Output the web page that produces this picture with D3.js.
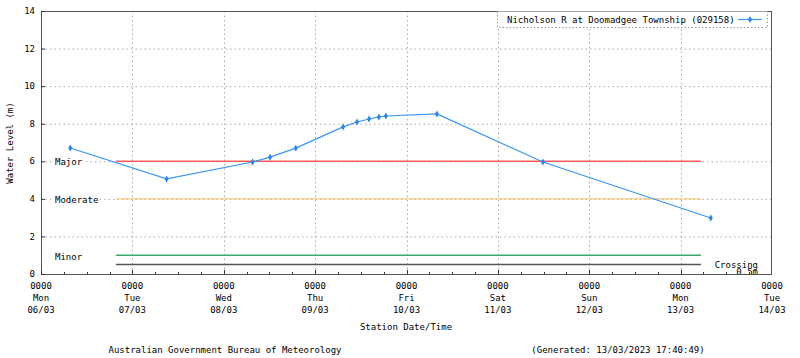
<!DOCTYPE html>
<html><head><meta charset="utf-8">
<script src="https://cdn.jsdelivr.net/npm/d3@7"></script>
<style>body{margin:0;background:#fff}svg{display:block}text{font-family:"DejaVu Sans Mono","Liberation Mono",monospace;font-size:9px;fill:#000}</style>
</head><body><svg id="c" width="800" height="358"></svg>
<script>
// ---- data ----
const seriesName = "Nicholson R at Doomadgee Township (029158)";
const obsTimes = ["2023-03-06T07:40","2023-03-07T09:00","2023-03-08T07:35","2023-03-08T12:10","2023-03-08T18:55","2023-03-09T07:20","2023-03-09T11:00","2023-03-09T14:10","2023-03-09T16:45","2023-03-09T18:35","2023-03-10T08:00","2023-03-11T11:50","2023-03-13T07:55"];
const obsLevels = [6.71,5.06,5.96,6.22,6.70,7.83,8.09,8.25,8.36,8.41,8.52,5.96,2.98];
const thresholdNames = ["Major","Moderate","Minor","Crossing"];
const thresholdLevels = [6,4,1,0.5];
const thresholdColors = ["#ff5a5a","#f5c060","#3aa86a","#555555"];
const thresholdWidths = [1.5,1,1.5,1.5];
const thresholdStart = "2023-03-06T19:40";
const thresholdEnd = "2023-03-13T05:20";
const yTicks = [0,2,4,6,8,10,12,14];
const dayLabels = ["Mon","Tue","Wed","Thu","Fri","Sat","Sun","Mon","Tue"];
const dateLabels = ["06/03","07/03","08/03","09/03","10/03","11/03","12/03","13/03","14/03"];
const xLabel = "Station Date/Time";
const yLabel = "Water Level (m)";
const footerLeft = "Australian Government Bureau of Meteorology";
const footerRight = "(Generated: 13/03/2023 17:40:49)";

const parse = d3.timeParse("%Y-%m-%dT%H:%M");
const L=41,R=772,T=11,B=274;
const svg=d3.select("#c");
const x=d3.scaleTime().domain([parse("2023-03-06T00:00"),parse("2023-03-14T00:00")]).range([L,R]);
const y=d3.scaleLinear().domain([0,14]).range([B,T]);
const days=d3.timeDay.range(parse("2023-03-06T00:00"),parse("2023-03-14T00:01"));
const hours6=d3.timeHour.every(6).range(parse("2023-03-06T00:00"),parse("2023-03-14T00:00"));

// grid
const g=svg.append("g");
g.selectAll("line.hg").data(yTicks.filter(v=>v>0&&v<14)).join("line")
 .attr("x1",L).attr("x2",R).attr("y1",d=>y(d)+.5).attr("y2",d=>y(d)+.5)
 .attr("stroke","#aaa").attr("stroke-dasharray","1.5,3");
g.selectAll("line.vg").data(days.slice(1,-1)).join("line")
 .attr("x1",d=>Math.round(x(d))+.5).attr("x2",d=>Math.round(x(d))+.5).attr("y1",T).attr("y2",B)
 .attr("stroke","#aaa").attr("stroke-dasharray","1.5,3");

// threshold labels with white background
thresholdNames.forEach((n,i)=>{
  if(n==="Crossing") return;
  const yy = n==="Minor" ? y(thresholdLevels[i])+1.5 : y(thresholdLevels[i])+.5;
  const t=svg.append("text").attr("x",55).attr("y",yy).attr("dy","0.35em").text(n);
  const bb=t.node().getBBox();
  svg.insert("rect","text").attr("x",bb.x-1).attr("y",bb.y).attr("width",bb.width+2).attr("height",bb.height).attr("fill","#fff");
});

// threshold lines
svg.selectAll("line.th").data(thresholdLevels).join("line")
 .attr("x1",x(parse(thresholdStart))).attr("x2",x(parse(thresholdEnd)))
 .attr("y1",d=>y(d)).attr("y2",d=>y(d))
 .attr("stroke",(d,i)=>thresholdColors[i]).attr("stroke-width",(d,i)=>thresholdWidths[i]);
svg.append("text").attr("x",758).attr("y",y(0.5)).attr("dy","0.35em").attr("text-anchor","end").text("Crossing");
svg.append("text").attr("x",758).attr("y",y(0.5)+7).attr("dy","0.35em").attr("text-anchor","end").text("0.5m");

// border
svg.append("rect").attr("x",L+.5).attr("y",T+.5).attr("width",R-L-1).attr("height",B-T).attr("fill","none").attr("stroke","#555");

// ticks
svg.selectAll("line.mx").data(hours6).join("line")
 .attr("x1",d=>Math.round(x(d))+.5).attr("x2",d=>Math.round(x(d))+.5)
 .attr("y1",B).attr("y2",d=>d.getHours()===0?B-4:B-2).attr("stroke","#333");
svg.selectAll("line.yt").data(yTicks).join("line")
 .attr("x1",L).attr("x2",L+4).attr("y1",d=>y(d)+.5).attr("y2",d=>y(d)+.5).attr("stroke","#333");

// tick labels
svg.selectAll("text.yl").data(yTicks).join("text")
 .attr("x",35).attr("y",d=>y(d)).attr("dy","0.35em").attr("text-anchor","end").text(d=>d);
const xl=svg.selectAll("g.xl").data(days).join("g").attr("transform",d=>`translate(${x(d)},0)`);
xl.append("text").attr("y",289).attr("text-anchor","middle").text("0000");
xl.append("text").attr("y",301).attr("text-anchor","middle").text((d,i)=>dayLabels[i]);
xl.append("text").attr("y",313).attr("text-anchor","middle").text((d,i)=>dateLabels[i]);

svg.append("text").attr("x",406).attr("y",330).attr("text-anchor","middle").text(xLabel);
svg.append("text").attr("transform","translate(13,143) rotate(-90)").attr("text-anchor","middle").text(yLabel);
svg.append("text").attr("x",225).attr("y",353).attr("text-anchor","middle").text(footerLeft);
svg.append("text").attr("x",618).attr("y",353).attr("text-anchor","middle").text(footerRight);

// series
const pts=obsTimes.map((t,i)=>({t:parse(t),v:obsLevels[i]}));
svg.append("path").datum(pts).attr("fill","none").attr("stroke","#3a96f7").attr("stroke-width",1.2)
 .attr("d",d3.line().x(d=>x(d.t)).y(d=>y(d.v)));
const sym=d3.symbol().type(d3.symbolDiamond).size(14);
svg.selectAll("path.pt").data(pts).join("path").attr("d",sym)
 .attr("transform",d=>`translate(${x(d.t)},${y(d.v)})`).attr("fill","#2a86ee");

// legend
svg.append("rect").attr("x",497.5).attr("y",11.5).attr("width",270).attr("height",16)
 .attr("fill","#fff").attr("stroke","#999").attr("stroke-dasharray","1.5,2");
svg.append("text").attr("x",507).attr("y",20).attr("dy","0.35em").text(seriesName);
svg.append("line").attr("x1",738).attr("x2",762).attr("y1",19.5).attr("y2",19.5).attr("stroke","#3a96f7").attr("stroke-width",1.2);
svg.append("path").attr("d",sym).attr("transform","translate(750,19.5)").attr("fill","#2a86ee");
</script></body></html>
